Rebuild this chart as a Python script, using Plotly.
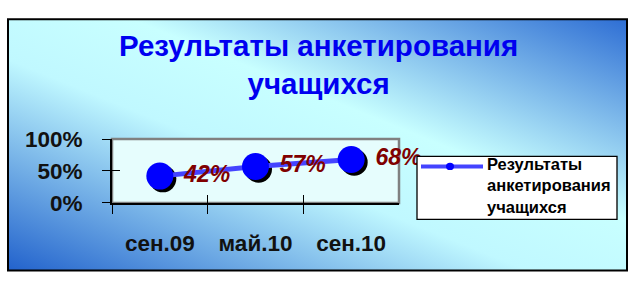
import base64
import plotly.graph_objects as go

# ---- data ----
categories = ["сен.09", "май.10", "сен.10"]
values = [0.42, 0.57, 0.68]
value_labels = ["42%", "57%", "68%"]
series_name = "Результаты анкетирования учащихся"
chart_title = "Результаты анкетирования<br>учащихся"
legend_text = "Результаты<br>анкетирования<br>учащихся"
y_tickvals = [0, 0.5, 1.0]

W, H = 635, 290
def px(x):
    return x / W
def py(y):
    return 1 - y / H

FONT = "Liberation Sans, Arial, sans-serif"

# plot area in pixels
L, R, T, B = 112, 399, 139, 209
SH = 3  # shadow offset

svg = (
    '<svg xmlns="http://www.w3.org/2000/svg" width="100" height="100" viewBox="0 0 1 1" preserveAspectRatio="none">'
    '<defs><linearGradient id="g" x1="0" y1="1" x2="1" y2="0">'
    '<stop offset="0" stop-color="#2262cc"/>'
    '<stop offset="0.42" stop-color="#c0f8ff"/>'
    '<stop offset="0.60" stop-color="#c8ffff"/>'
    '<stop offset="1" stop-color="#2e6ed4"/>'
    '</linearGradient></defs>'
    '<rect x="0" y="0" width="1" height="1" fill="url(#g)"/></svg>'
)
bg_src = "data:image/svg+xml;base64," + base64.b64encode(svg.encode()).decode()

fig = go.Figure()

# invisible trace so the main (visible) axes get drawn
fig.add_trace(go.Scatter(
    x=categories, y=values, mode="markers",
    marker=dict(size=1, opacity=0), xaxis="x", yaxis="y",
    hoverinfo="skip", showlegend=False,
))
# shadow markers (shifted axes)
fig.add_trace(go.Scatter(
    x=categories, y=values, mode="markers",
    marker=dict(size=27, color="black", line=dict(width=0)),
    xaxis="x2", yaxis="y2", hoverinfo="skip", showlegend=False,
))
# main series
fig.add_trace(go.Scatter(
    x=categories, y=values, mode="lines+markers+text",
    name=series_name,
    text=[" " + t for t in value_labels],
    textposition="middle right",
    textfont=dict(family=FONT, size=23, color="#800000", weight="bold", style="italic"),
    line=dict(color="#4444ff", width=5),
    marker=dict(size=27, color="#0000ff", line=dict(width=0)),
    xaxis="x3", yaxis="y3", cliponaxis=False, showlegend=False,
))

xdom = [px(L), px(R)]
ydom = [py(B), py(T)]
xrange_ = [-0.5, len(categories) - 0.5]
yrange_ = [0, 1]

common_hidden = dict(showgrid=False, zeroline=False, showline=False, showticklabels=False)

fig.update_layout(
    width=W, height=H,
    margin=dict(l=0, r=0, t=0, b=0),
    paper_bgcolor="white",
    plot_bgcolor="rgba(0,0,0,0)",
    showlegend=False,
    xaxis=dict(
        domain=xdom, range=xrange_, type="category",
        categoryorder="array", categoryarray=categories,
        showline=True, linecolor="black", linewidth=2,
        ticks="outside", ticklen=9, tickwidth=1.3, tickcolor="black",
        tickson="boundaries", showgrid=False, zeroline=False,
        tickfont=dict(family=FONT, size=22.5, color="#111111", weight="bold"),
        ticklabelstandoff=19, anchor="y", fixedrange=True,
    ),
    yaxis=dict(
        domain=ydom, range=yrange_, tickvals=y_tickvals, tickformat=".0%",
        showline=True, linecolor="black", linewidth=2,
        ticks="outside", ticklen=8, tickwidth=1.3, tickcolor="black",
        showgrid=False, zeroline=False,
        tickfont=dict(family=FONT, size=22.5, color="#111111", weight="bold"),
        ticklabelstandoff=15, anchor="x", fixedrange=True,
    ),
    xaxis2=dict(domain=[px(L + SH), px(R + SH)], range=xrange_, type="category",
                categoryorder="array", categoryarray=categories,
                anchor="y2", visible=False, **common_hidden),
    yaxis2=dict(domain=[py(B + SH), py(T + SH)], range=yrange_, anchor="x2",
                visible=False, **common_hidden),
    xaxis3=dict(domain=xdom, range=xrange_, type="category",
                categoryorder="array", categoryarray=categories,
                anchor="y3", ticks="inside", ticklen=8, tickwidth=1.3,
                tickcolor="black", tickson="boundaries", **common_hidden),
    yaxis3=dict(domain=ydom, range=yrange_, tickvals=y_tickvals, anchor="x3",
                ticks="inside", ticklen=8, tickwidth=1.3, tickcolor="black",
                **common_hidden),
    images=[dict(
        source=bg_src, xref="paper", yref="paper",
        x=px(8), y=py(8), sizex=px(627) - px(8), sizey=py(8) - py(283),
        xanchor="left", yanchor="top", sizing="stretch", layer="below",
    )],
    shapes=[
        # outer border
        dict(type="rect", xref="paper", yref="paper",
             x0=px(8), x1=px(627), y0=py(283), y1=py(8),
             line=dict(color="black", width=2), fillcolor="rgba(0,0,0,0)", layer="above"),
        # plot area
        dict(type="rect", xref="paper", yref="paper",
             x0=px(L), x1=px(R), y0=py(B), y1=py(T),
             line=dict(color="#808080", width=2.5), fillcolor="#e6fdfd", layer="below"),
        # legend box
        dict(type="rect", xref="paper", yref="paper",
             x0=px(417), x1=px(617), y0=py(227), y1=py(158),
             line=dict(color="black", width=1.3), fillcolor="white", layer="above"),
        dict(type="line", xref="paper", yref="paper",
             x0=px(421), x1=px(483), y0=py(169), y1=py(169),
             line=dict(color="#4444ff", width=4), layer="above"),
        dict(type="circle", xref="paper", yref="paper",
             x0=px(446), x1=px(454), y0=py(173), y1=py(165),
             line=dict(width=0), fillcolor="#0000ff", layer="above"),
    ],
    annotations=[
        dict(text=chart_title, xref="paper", yref="paper",
             x=px(318), y=py(57), xanchor="center", yanchor="middle",
             showarrow=False, align="center",
             font=dict(family=FONT, size=29.5, color="#0000f0", weight="bold")),
        dict(text=legend_text, xref="paper", yref="paper",
             x=px(485), y=py(190), xanchor="left", yanchor="middle",
             showarrow=False, align="left",
             font=dict(family=FONT, size=16.5, color="black", weight="bold")),
    ],
)

fig.write_html("out.html")
